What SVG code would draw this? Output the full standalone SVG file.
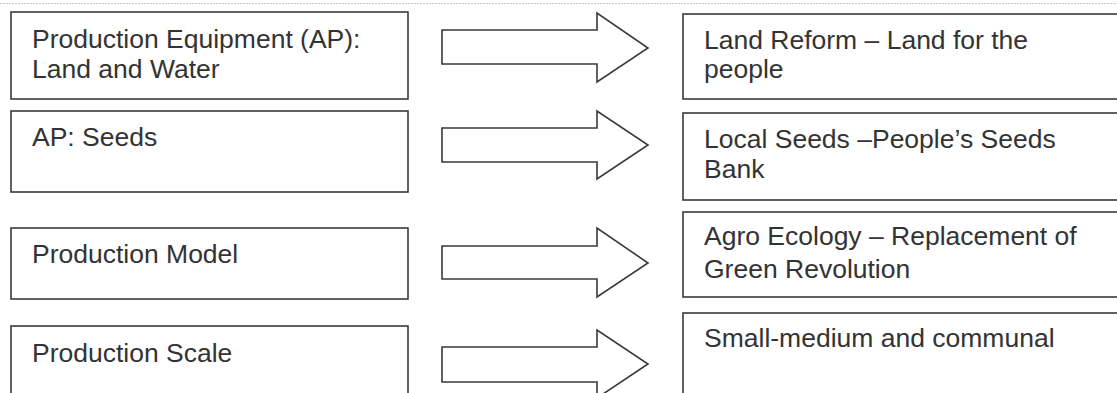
<svg xmlns="http://www.w3.org/2000/svg" width="1117" height="393" viewBox="0 0 1117 393">
<style>
.box{fill:#fff;stroke:#3a3a3a;stroke-width:1.6}
.arr{fill:#fff;stroke:#3a3a3a;stroke-width:1.6;stroke-linejoin:miter}
text{font-family:"Liberation Sans",Arial,sans-serif;font-size:26.5px;fill:#333}
</style>
<rect width="1117" height="393" fill="#fff"/>
<line x1="0" y1="3.5" x2="1117" y2="3.5" stroke="#c8c8c8" stroke-width="1" stroke-dasharray="2 1"/>
<g id="left1"><rect class="box" x="11" y="12" width="397" height="87"/><text x="32" y="48">Production Equipment (AP):</text><text x="32" y="78">Land and Water</text></g>
<g id="left2"><rect class="box" x="11" y="111" width="397" height="81"/><text x="32" y="146">AP: Seeds</text></g>
<g id="left3"><rect class="box" x="11" y="228" width="397" height="71"/><text x="32" y="263">Production Model</text></g>
<g id="left4"><rect class="box" x="11" y="326" width="397" height="80"/><text x="32" y="362">Production Scale</text></g>
<g id="right1"><rect class="box" x="683" y="14" width="450" height="85"/><text x="704" y="49">Land Reform – Land for the</text><text x="704" y="78">people</text></g>
<g id="right2"><rect class="box" x="683" y="113" width="450" height="87"/><text x="704" y="148">Local Seeds –People’s Seeds</text><text x="704" y="178">Bank</text></g>
<g id="right3"><rect class="box" x="683" y="212" width="450" height="85"/><text x="704" y="245">Agro Ecology – Replacement of</text><text x="704" y="278">Green Revolution</text></g>
<g id="right4"><rect class="box" x="683" y="313" width="450" height="90"/><text x="704" y="347">Small-medium and communal</text></g>
<g id="connectors">
<path class="arr" d="M442,30 H597 V13 L648,48 L597,82 V64 H442 Z"/>
<path class="arr" d="M442,128 H597 V111 L648,145 L597,179 V162 H442 Z"/>
<path class="arr" d="M442,246 H597 V228 L648,263 L597,297 V279 H442 Z"/>
<path class="arr" d="M442,347 H597 V330 L648,364 L597,398 V382 H442 Z"/>
</g>
</svg>
